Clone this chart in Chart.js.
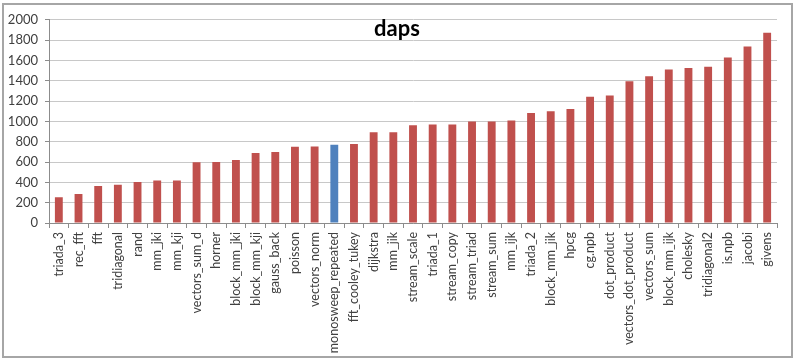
<!DOCTYPE html>
<html>
<head>
<meta charset="utf-8">
<script src="https://cdn.jsdelivr.net/npm/chart.js@4"></script>
<style>
  body { margin: 0; background: #fff; }
  #wrap {
    position: absolute; left: 2px; top: 3px;
    width: 787px; height: 351px;
    border: 2px solid #a6a6a6;
  }
</style>
</head>
<body>
<div id="wrap"><canvas id="myChart"></canvas></div>
<script>
// benchmark names (x axis)
const categories = [
  'triada_3', 'rec_fft', 'fft', 'tridiagonal', 'rand', 'mm_jki', 'mm_kji',
  'vectors_sum_d', 'horner', 'block_mm_jki', 'block_mm_kji', 'gauss_back',
  'poisson', 'vectors_norm', 'monosweep_repeated', 'fft_cooley_tukey',
  'dijkstra', 'mm_jik', 'stream_scale', 'triada_1', 'stream_copy',
  'stream_triad', 'stream_sum', 'mm_ijk', 'triada_2', 'block_mm_jik', 'hpcg',
  'cg.npb', 'dot_product', 'vectors_dot_product', 'vectors_sum',
  'block_mm_ijk', 'cholesky', 'tridiagonal2', 'is.npb', 'jacobi', 'givens'
];
// daps values
const dapsValues = [
  254, 286, 364, 377, 403, 419, 419,
  598, 600, 621, 689, 699,
  751, 754, 771, 777,
  894, 894, 962, 969, 969,
  998, 998, 1008, 1083, 1099, 1122,
  1242, 1255, 1395, 1444,
  1512, 1525, 1538, 1629, 1737, 1873
];
const highlighted = 'monosweep_repeated';
const yTicks = [0, 200, 400, 600, 800, 1000, 1200, 1400, 1600, 1800, 2000];

const RED = '#C0504D';
const BLUE = '#4F81BD';
const GRID = '#c8c8c8';
const AXIS = '#8c8c8c';
const FONT = 'Lato, "Open Sans", sans-serif';

// title is drawn on top of the plot, like the Excel original
const titlePlugin = {
  id: 'dapsTitle',
  afterDraw(chart) {
    const ctx = chart.ctx;
    ctx.save();
    ctx.font = 'bold 22px ' + FONT;
    ctx.fillStyle = '#000';
    ctx.textAlign = 'center';
    ctx.textBaseline = 'alphabetic';
    ctx.fillText('daps', 393, 31);
    ctx.restore();
  }
};

const ctx = document.getElementById('myChart').getContext('2d');
new Chart(ctx, {
  type: 'bar',
  data: {
    labels: categories,
    datasets: [{
      label: 'daps',
      data: dapsValues,
      backgroundColor: categories.map(c => c === highlighted ? BLUE : RED),
      borderWidth: 0,
      barPercentage: 0.4,
      categoryPercentage: 1.0
    }]
  },
  options: {
    responsive: true,
    maintainAspectRatio: false,
    animation: false,
    layout: {
      padding: { top: 13, right: 14, left: 0, bottom: 0 }
    },
    plugins: {
      legend: { display: false },
      title: { display: false },
      tooltip: { enabled: false }
    },
    scales: {
      x: {
        afterFit: axis => { axis.height = 133; },
        grid: {
          offset: true,
          drawOnChartArea: false,
          drawTicks: true,
          tickLength: 5,
          color: AXIS
        },
        border: { color: AXIS, width: 1 },
        ticks: {
          autoSkip: false,
          minRotation: 90,
          maxRotation: 90,
          padding: 4,
          color: '#404040',
          font: { family: FONT, size: 12.5 }
        }
      },
      y: {
        min: 0,
        max: 2000,
        afterFit: axis => { axis.width = 45; },
        afterBuildTicks: axis => { axis.ticks = yTicks.map(v => ({ value: v })); },
        grid: {
          color: GRID,
          tickColor: AXIS,
          tickLength: 4,
          lineWidth: 1
        },
        border: { color: AXIS, width: 1 },
        ticks: {
          padding: 7,
          color: '#404040',
          font: { family: FONT, size: 13 },
          callback: v => String(v)
        }
      }
    }
  },
  plugins: [titlePlugin]
});
</script>
</body>
</html>
